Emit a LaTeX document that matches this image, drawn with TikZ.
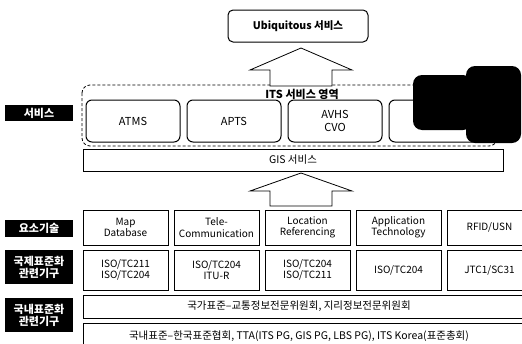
\documentclass[tikz,border=0pt]{standalone}
\usepackage{fontspec}
\setmainfont{Noto Sans CJK KR}
\usetikzlibrary{positioning}

\begin{document}
\begin{tikzpicture}[x=1pt,y=-1pt,font=\fontsize{10}{11.5}\selectfont,line width=1pt,
  lbl/.style={fill=black,text=white,font=\fontsize{11}{12}\selectfont\bfseries,align=center,minimum width=68pt,inner sep=1pt},
  svc/.style={draw,rounded corners=6pt,align=center,minimum width=94pt,minimum height=42pt,inner sep=1pt,font=\fontsize{11}{12.5}\selectfont},
  cell/.style={draw,align=center,minimum width=85pt,inner sep=1pt},
  wide/.style={draw,minimum width=450pt,font=\fontsize{10.5}{12}\selectfont},
  blk/.style={draw,fill=white,line width=0.8pt}]
\clip (0,0) rectangle (522,343);
\fill[white] (0,0) rectangle (522,343);
% left labels
\node[lbl,minimum height=16pt] (lsvc) at (39,113) {서비스};
\node[lbl,minimum height=17pt] (ltech) at (39,228) {요소기술};
\node[lbl,minimum height=34pt] (lintl) at (39,267) {국제표준화\\관련기구};
\node[lbl,minimum height=34pt] (lnat) at (39,315) {국내표준화\\관련기구};
% top
\node[draw,rounded corners=5pt,minimum width=140pt,minimum height=32pt,font=\fontsize{10.5}{12}\selectfont\bfseries] (ubi) at (298,26) {Ubiquitous 서비스};
\draw[densely dashed,rounded corners=8pt,line width=0.8pt] (82,85) rectangle (497,146);
\node[font=\fontsize{11}{12}\selectfont\bfseries] (its) at (302,94) {ITS 서비스 영역};
\foreach \n/\x/\t in {atms/133/ATMS,apts/234/APTS,avhs/335/{AVHS\\CVO}}
  \node[svc] (\n) at (\x,121) {\t};
\node[svc,minimum width=101pt] (etc) at (439.5,121) {};
% black patch
\fill[rounded corners=9pt] (413,75) rectangle (472,130);
\fill[rounded corners=9pt] (466,66) rectangle (521,143);
\node[draw,minimum width=420pt,minimum height=22pt,font=\fontsize{10.5}{12}\selectfont] (gis) at (293,160) {GIS 서비스};
% block arrows
\foreach \b/\h/\t in {86/70/48,206/191/173}
  \draw[blk] (270,\b) -- (270,\h) -- (250,\h) -- (301,\t) -- (352,\h) -- (332,\h) -- (332,\b) -- cycle;
% element technologies
\foreach \n/\x/\t in {map/125.5/{Map\\Database},tele/216.5/{Tele-\\Communication},loc/307.5/{Location\\Referencing},app/398.5/{Application\\Technology},rfid/489.5/{RFID/USN}}
  \node[cell,minimum height=35pt] (\n) at (\x,227.5) {\t};
\foreach \n/\x/\t in {imap/125.5/{ISO/TC211\\ISO/TC204},itele/216.5/{ISO/TC204\\ITU-R},iloc/307.5/{ISO/TC204\\ISO/TC211},iapp/398.5/{ISO/TC204},irfid/489.5/{JTC1/SC31}}
  \node[cell,minimum height=40pt] (\n) at (\x,270) {\t};
\node[wide,minimum height=23pt] (kor1) at (308,306.5) {\hspace*{-18pt}국가표준–교통정보전문위원회, 지리정보전문위원회};
\node[wide,minimum height=27pt] (kor2) at (308,336.5) {\hspace*{-18pt}국내표준–한국표준협회, TTA(ITS PG, GIS PG, LBS PG), ITS Korea(표준총회)};
\end{tikzpicture}
\end{document}
